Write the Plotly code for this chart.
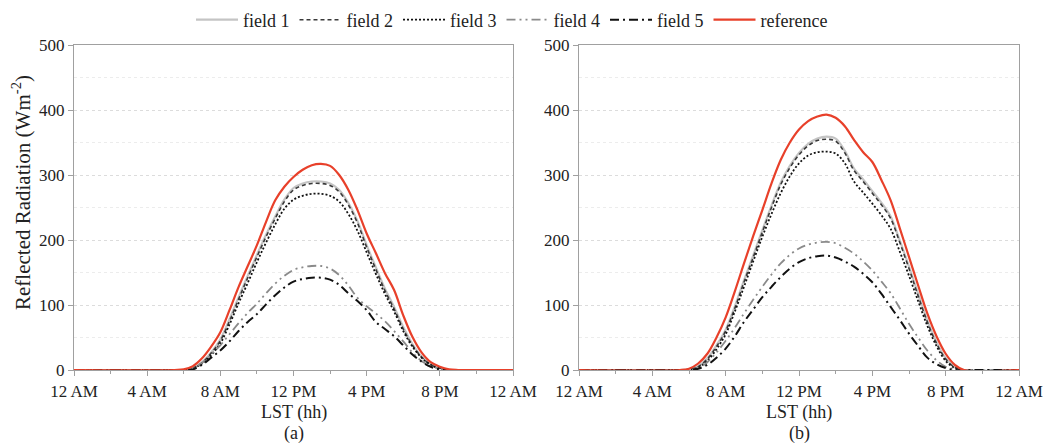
import plotly.graph_objects as go

# time of day (hours, LST)
hours = [0, 5.5, 6, 6.5, 7, 7.5, 8, 8.5, 9, 9.5, 10, 10.5, 11, 11.5, 12, 12.5, 13,
         13.5, 14, 14.5, 15, 15.5, 16, 16.5, 17, 17.5, 18, 18.5, 19, 19.5, 20, 20.5, 21, 24]

# panel (a)
a_field1 = [0, 0, 0, 3, 12, 27, 47, 78, 112, 145, 177, 208, 236, 262, 280, 287, 290, 290, 287, 277, 257, 229, 192, 158, 125, 97, 66, 40, 21, 9, 3, 0, 0, 0]
a_field2 = [0, 0, 0, 3, 11, 26, 45, 75, 109, 142, 174, 205, 233, 259, 277, 284, 287, 287, 284, 274, 254, 226, 189, 155, 122, 94, 63, 38, 20, 8, 3, 0, 0, 0]
a_field3 = [0, 0, 0, 2, 10, 23, 41, 70, 103, 134, 166, 196, 224, 248, 262, 268, 271, 271, 268, 259, 240, 214, 181, 148, 117, 90, 60, 36, 19, 8, 2, 0, 0, 0]
a_field4 = [0, 0, 0, 2, 11, 24, 38, 55, 72, 88, 102, 118, 133, 145, 154, 158, 160, 160, 156, 146, 130, 111, 98, 87, 75, 60, 44, 27, 14, 6, 2, 0, 0, 0]
a_field5 = [0, 0, 0, 1, 8, 19, 30, 44, 60, 74, 86, 101, 115, 127, 136, 140, 142, 142, 139, 131, 118, 106, 92, 74, 63, 52, 38, 24, 13, 5, 1, 0, 0, 0]
a_ref = [0, 0, 1, 6, 18, 36, 58, 92, 128, 160, 192, 228, 261, 282, 297, 308, 315, 317, 314, 300, 277, 246, 210, 180, 149, 123, 84, 51, 27, 12, 5, 1, 0, 0]

# panel (b)
b_field1 = [0, 0, 1, 6, 18, 38, 62, 98, 138, 176, 215, 253, 288, 314, 334, 348, 356, 359, 356, 337, 310, 293, 275, 257, 236, 199, 159, 117, 76, 43, 18, 5, 0, 0]
b_field2 = [0, 0, 1, 5, 17, 36, 60, 95, 135, 173, 212, 250, 285, 311, 331, 345, 353, 355, 352, 334, 307, 290, 272, 254, 233, 196, 156, 114, 74, 41, 17, 4, 0, 0]
b_field3 = [0, 0, 0, 4, 14, 32, 55, 90, 128, 167, 205, 240, 272, 298, 318, 330, 335, 336, 333, 318, 290, 273, 256, 238, 217, 182, 145, 106, 68, 37, 14, 3, 0, 0]
b_field4 = [0, 0, 0, 3, 12, 27, 45, 65, 87, 108, 128, 147, 164, 177, 187, 193, 196, 197, 195, 188, 179, 167, 153, 136, 118, 95, 71, 50, 30, 15, 5, 1, 0, 0]
b_field5 = [0, 0, 0, 2, 8, 19, 33, 52, 74, 93, 112, 128, 143, 156, 166, 172, 175, 176, 173, 167, 159, 148, 135, 117, 97, 77, 56, 37, 19, 9, 3, 0, 0, 0]
b_ref = [0, 0, 2, 10, 25, 50, 81, 121, 164, 206, 246, 287, 323, 350, 370, 383, 390, 393, 388, 375, 354, 335, 320, 292, 261, 218, 174, 130, 87, 52, 25, 8, 0, 0]

series_names = ["field 1", "field 2", "field 3", "field 4", "field 5", "reference"]
x_tickvals = [0, 4, 8, 12, 16, 20, 24]
x_ticktext = ["12 AM", "4 AM", "8 AM", "12 PM", "4 PM", "8 PM", "12 AM"]
y_tickvals = [0, 100, 200, 300, 400, 500]

styles = [
    dict(color="#c4c4c4", width=2.2, dash="solid"),
    dict(color="#3a3a3a", width=1.6, dash="4px,3px"),
    dict(color="#111111", width=1.8, dash="2px,2px"),
    dict(color="#8a8a8a", width=1.8, dash="9px,4px,2px,4px,2px,4px"),
    dict(color="#111111", width=2.0, dash="9px,4px,2px,4px"),
    dict(color="#e8402a", width=2.2, dash="solid"),
]

FONT = "Liberation Serif"
fig = go.Figure()

panels = [
    ([a_field1, a_field2, a_field3, a_field4, a_field5, a_ref], "x", "y"),
    ([b_field1, b_field2, b_field3, b_field4, b_field5, b_ref], "x2", "y2"),
]
for pi, (data, xa, ya) in enumerate(panels):
    for name, vals, st in zip(series_names, data, styles):
        fig.add_trace(go.Scatter(
            x=hours, y=vals, mode="lines", name=name,
            line=dict(color=st["color"], width=st["width"], dash=st["dash"], shape="spline", smoothing=1.0),
            xaxis=xa, yaxis=ya, showlegend=(pi == 0),
        ))

W, H = 1043, 445
ML, MR, MT, MB = 74, 24, 45, 75
PW = W - ML - MR
xdom_a = [0, 439 / PW]
xdom_b = [(579 - ML) / PW, 1]

AXC = "#a0a0a0"
axis_common_x = dict(
    range=[0, 24], tickvals=x_tickvals, ticktext=x_ticktext,
    ticks="outside", ticklen=5, tickcolor=AXC, showline=True, linecolor=AXC, linewidth=1.2,
    mirror=True, showgrid=False, zeroline=False,
    minor=dict(tickvals=[2, 6, 10, 14, 18, 22], ticks="outside", ticklen=3, tickcolor=AXC),
    tickfont=dict(family=FONT, size=17, color="#222"),
)
axis_common_y = dict(
    range=[0, 500], tickvals=y_tickvals,
    ticks="outside", ticklen=5, tickcolor=AXC, showline=True, linecolor=AXC, linewidth=1.2,
    mirror=True, showgrid=True, gridcolor="#dcdcdc", griddash="dot", gridwidth=1, zeroline=False,
    minor=dict(tickvals=[50, 150, 250, 350, 450], showgrid=True, gridcolor="#ececec", griddash="dot", ticks=""),
    tickfont=dict(family=FONT, size=17, color="#222"),
)

fig.update_layout(
    width=W, height=H,
    margin=dict(l=ML, r=MR, t=MT, b=MB, autoexpand=False),
    paper_bgcolor="white", plot_bgcolor="white",
    xaxis=dict(domain=xdom_a, anchor="y", **axis_common_x),
    yaxis=dict(domain=[0, 1], anchor="x", **axis_common_y),
    xaxis2=dict(domain=xdom_b, anchor="y2", **axis_common_x),
    yaxis2=dict(domain=[0, 1], anchor="x2", **axis_common_y),
    legend=dict(orientation="h", xref="container", yref="container",
                x=512 / W, xanchor="center", y=(H - 20) / H, yanchor="middle",
                font=dict(family=FONT, size=18, color="#222"), itemwidth=42,
                bgcolor="rgba(0,0,0,0)"),
    showlegend=True,
)

def add_text(x, y, text, size=18, angle=0):
    fig.add_annotation(x=x, y=y, xref="paper", yref="paper", text=text, showarrow=False,
                       xanchor="center", yanchor="middle", textangle=angle,
                       font=dict(family=FONT, size=size, color="#222"))

PH = H - MT - MB
def px(xp):
    return (xp - ML) / PW
def py(yp):
    return (H - MB - yp) / PH

add_text(px(293.5), py(412), "LST (hh)")
add_text(px(293.5), py(433), "(a)")
add_text(px(799), py(412), "LST (hh)")
add_text(px(799), py(433), "(b)")
add_text(px(21), py(193), "Reflected Radiation (Wm<sup>-2</sup>)", size=21, angle=-90)

fig.write_html("out.html", post_script="document.body.style.margin='0px';",
               config={"displayModeBar": False})
